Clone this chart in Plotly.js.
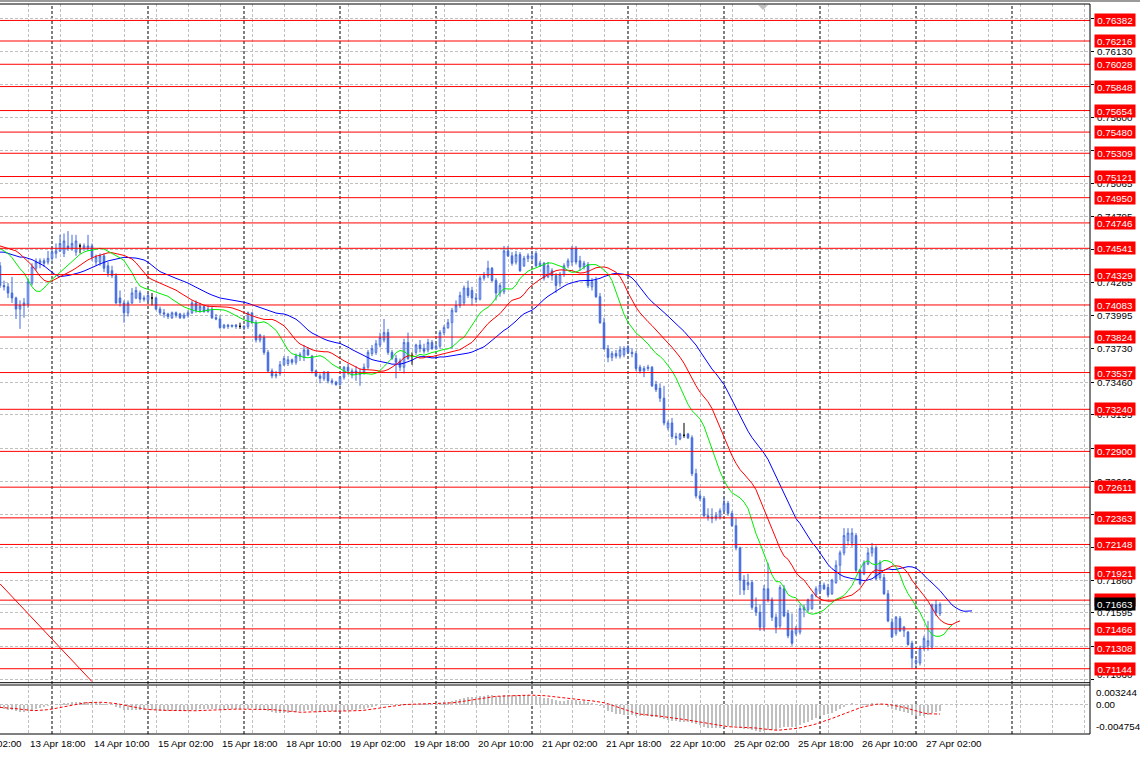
<!DOCTYPE html>
<html><head><meta charset="utf-8">
<script src="https://cdn.plot.ly/plotly-3.0.1.min.js"></script>
<style>html,body{margin:0;padding:0;background:#fff;}#chart{width:1140px;height:757px;}</style>
</head><body><div id="chart"></div>
<script>
// ---------- DATA (AUDUSD, H1) ----------
const firstBar = '13 Apr 11:00';
const opens = [
0.7440,0.7424,0.7423,0.7418,0.7414,0.7405,0.7408,0.7409,0.7426,0.7438,
0.7442,0.7444,0.7443,0.7446,0.7450,0.7452,0.7450,0.7456,0.7454,0.7451,
0.7456,0.7454,0.7454,0.7456,0.7443,0.7443,0.7448,0.7440,0.7436,0.7432,
0.7414,0.7410,0.7402,0.7410,0.7414,0.7418,0.7414,0.7412,0.7414,0.7414,
0.7405,0.7402,0.7401,0.7398,0.7402,0.7401,0.7398,0.7400,0.7402,0.7410,
0.7404,0.7407,0.7403,0.7405,0.7398,0.7397,0.7390,0.7392,0.7391,0.7392,
0.7391,0.7390,0.7391,0.7402,0.7394,0.7380,0.7382,0.7370,0.7355,0.7351,
0.7353,0.7360,0.7361,0.7364,0.7362,0.7367,0.7366,0.7372,0.7367,0.7355,
0.7351,0.7349,0.7354,0.7347,0.7346,0.7344,0.7350,0.7358,0.7352,0.7355,
0.7352,0.7354,0.7358,0.7369,0.7370,0.7376,0.7380,0.7386,0.7370,0.7365,
0.7363,0.7358,0.7378,0.7367,0.7370,0.7376,0.7373,0.7372,0.7378,0.7373,
0.7375,0.7386,0.7390,0.7394,0.7403,0.7408,0.7410,0.7422,0.7420,0.7414,
0.7413,0.7430,0.7432,0.7438,0.7428,0.7418,0.7419,0.7452,0.7448,0.7443,
0.7449,0.7440,0.7446,0.7446,0.7450,0.7440,0.7442,0.7431,0.7436,0.7432,
0.7426,0.7433,0.7440,0.7443,0.7454,0.7444,0.7439,0.7441,0.7423,0.7428,
0.7415,0.7394,0.7373,0.7366,0.7369,0.7367,0.7368,0.7374,0.7370,0.7369,
0.7358,0.7355,0.7357,0.7358,0.7344,0.7341,0.7333,0.7309,0.7313,0.7302,
0.7300,0.7303,0.7304,0.7301,0.7272,0.7254,0.7252,0.7238,0.7237,0.7236,
0.7237,0.7242,0.7248,0.7240,0.7230,0.7212,0.7186,0.7182,0.7184,0.7164,
0.7160,0.7148,0.7179,0.7170,0.7156,0.7149,0.7179,0.7159,0.7145,0.7143,
0.7144,0.7162,0.7162,0.7163,0.7174,0.7177,0.7182,0.7180,0.7175,0.7184,
0.7198,0.7208,0.7218,0.7216,0.7222,0.7194,0.7191,0.7199,0.7208,0.7212,
0.7188,0.7188,0.7175,0.7152,0.7143,0.7155,0.7145,0.7144,0.7135,0.7119,
0.7119,0.7131,0.7133,0.7132,0.7166,0.7159];
const highs = [
0.7443,0.7428,0.7426,0.7431,0.7415,0.7412,0.7414,0.7430,0.7442,0.7446,
0.7446,0.7446,0.7452,0.7455,0.7458,0.7465,0.7466,0.7468,0.7465,0.7465,
0.7458,0.7458,0.7465,0.7458,0.7449,0.7450,0.7450,0.7443,0.7440,0.7434,
0.7420,0.7412,0.7412,0.7422,0.7423,0.7420,0.7416,0.7418,0.7418,0.7415,
0.7407,0.7405,0.7402,0.7403,0.7403,0.7402,0.7402,0.7404,0.7412,0.7412,
0.7410,0.7408,0.7408,0.7407,0.7401,0.7400,0.7393,0.7393,0.7392,0.7393,
0.7394,0.7392,0.7403,0.7402,0.7396,0.7385,0.7384,0.7372,0.7357,0.7355,
0.7363,0.7367,0.7367,0.7365,0.7369,0.7370,0.7376,0.7374,0.7368,0.7356,
0.7353,0.7355,0.7355,0.7349,0.7347,0.7351,0.7359,0.7361,0.7357,0.7359,
0.7357,0.7361,0.7372,0.7376,0.7380,0.7386,0.7397,0.7389,0.7372,0.7368,
0.7365,0.7381,0.7386,0.7370,0.7377,0.7380,0.7377,0.7381,0.7380,0.7377,
0.7388,0.7392,0.7397,0.7406,0.7412,0.7419,0.7424,0.7428,0.7423,0.7418,
0.7432,0.7435,0.7444,0.7439,0.7430,0.7426,0.7456,0.7456,0.7451,0.7452,
0.7451,0.7448,0.7450,0.7451,0.7452,0.7444,0.7443,0.7443,0.7438,0.7434,
0.7435,0.7442,0.7446,0.7456,0.7456,0.7448,0.7444,0.7443,0.7430,0.7431,
0.7418,0.7398,0.7376,0.7371,0.7372,0.7375,0.7375,0.7376,0.7373,0.7371,
0.7360,0.7359,0.7360,0.7359,0.7347,0.7345,0.7343,0.7315,0.7317,0.7305,
0.7305,0.7313,0.7305,0.7303,0.7276,0.7258,0.7254,0.7244,0.7244,0.7241,
0.7244,0.7253,0.7250,0.7242,0.7236,0.7213,0.7190,0.7191,0.7186,0.7172,
0.7166,0.7182,0.7200,0.7172,0.7159,0.7182,0.7182,0.7162,0.7159,0.7149,
0.7166,0.7166,0.7171,0.7175,0.7181,0.7184,0.7184,0.7183,0.7187,0.7202,
0.7210,0.7228,0.7228,0.7228,0.7224,0.7195,0.7202,0.7212,0.7216,0.7214,
0.7202,0.7191,0.7178,0.7155,0.7157,0.7157,0.7149,0.7145,0.7137,0.7123,
0.7133,0.7141,0.7153,0.7167,0.7170,0.7168];
const lows = [
0.7422,0.7420,0.7414,0.7410,0.7397,0.7389,0.7398,0.7406,0.7424,0.7436,
0.7438,0.7439,0.7441,0.7444,0.7446,0.7451,0.7447,0.7452,0.7452,0.7448,
0.7450,0.7452,0.7452,0.7444,0.7440,0.7440,0.7435,0.7431,0.7430,0.7409,
0.7407,0.7394,0.7399,0.7409,0.7413,0.7410,0.7411,0.7410,0.7408,0.7404,
0.7400,0.7398,0.7397,0.7397,0.7398,0.7397,0.7397,0.7398,0.7401,0.7402,
0.7402,0.7402,0.7402,0.7397,0.7396,0.7389,0.7389,0.7389,0.7390,0.7389,
0.7389,0.7388,0.7389,0.7393,0.7378,0.7378,0.7368,0.7354,0.7349,0.7349,
0.7351,0.7359,0.7359,0.7360,0.7360,0.7363,0.7363,0.7367,0.7353,0.7350,
0.7345,0.7347,0.7345,0.7344,0.7343,0.7343,0.7348,0.7352,0.7349,0.7347,
0.7343,0.7352,0.7356,0.7367,0.7368,0.7374,0.7378,0.7368,0.7364,0.7349,
0.7355,0.7353,0.7364,0.7360,0.7368,0.7370,0.7369,0.7370,0.7372,0.7372,
0.7373,0.7384,0.7389,0.7373,0.7402,0.7406,0.7408,0.7414,0.7408,0.7410,
0.7412,0.7428,0.7430,0.7427,0.7412,0.7415,0.7417,0.7447,0.7440,0.7441,
0.7435,0.7439,0.7443,0.7444,0.7439,0.7439,0.7428,0.7430,0.7428,0.7418,
0.7423,0.7431,0.7438,0.7440,0.7441,0.7436,0.7437,0.7422,0.7420,0.7414,
0.7393,0.7372,0.7362,0.7363,0.7365,0.7365,0.7366,0.7369,0.7366,0.7355,
0.7353,0.7350,0.7355,0.7342,0.7338,0.7330,0.7311,0.7307,0.7300,0.7295,
0.7299,0.7301,0.7300,0.7270,0.7252,0.7250,0.7237,0.7234,0.7232,0.7234,
0.7235,0.7241,0.7238,0.7229,0.7210,0.7174,0.7174,0.7178,0.7162,0.7157,
0.7145,0.7145,0.7168,0.7153,0.7143,0.7147,0.7156,0.7139,0.7133,0.7141,
0.7142,0.7156,0.7160,0.7162,0.7172,0.7175,0.7178,0.7172,0.7174,0.7183,
0.7186,0.7206,0.7214,0.7213,0.7192,0.7182,0.7190,0.7198,0.7205,0.7186,
0.7186,0.7174,0.7152,0.7139,0.7141,0.7144,0.7140,0.7133,0.7115,0.7115,
0.7117,0.7129,0.7129,0.7130,0.7157,0.7157];
const closes = [
0.7424,0.7423,0.7418,0.7414,0.7405,0.7408,0.7410,0.7427,0.7439,0.7443,
0.7444,0.7442,0.7446,0.7451,0.7452,0.7458,0.7460,0.7454,0.7458,0.7460,
0.7456,0.7456,0.7456,0.7447,0.7447,0.7448,0.7438,0.7434,0.7432,0.7410,
0.7410,0.7402,0.7410,0.7418,0.7420,0.7413,0.7413,0.7416,0.7414,0.7405,
0.7402,0.7401,0.7399,0.7402,0.7400,0.7398,0.7400,0.7402,0.7410,0.7404,
0.7407,0.7403,0.7405,0.7398,0.7397,0.7390,0.7392,0.7391,0.7392,0.7391,
0.7391,0.7391,0.7402,0.7394,0.7380,0.7384,0.7370,0.7355,0.7351,0.7352,
0.7360,0.7365,0.7364,0.7362,0.7367,0.7368,0.7372,0.7368,0.7355,0.7351,
0.7349,0.7354,0.7347,0.7346,0.7344,0.7350,0.7358,0.7355,0.7355,0.7353,
0.7354,0.7358,0.7370,0.7373,0.7377,0.7382,0.7386,0.7370,0.7365,0.7362,
0.7358,0.7378,0.7365,0.7367,0.7376,0.7373,0.7371,0.7378,0.7373,0.7375,
0.7386,0.7390,0.7394,0.7404,0.7408,0.7416,0.7422,0.7416,0.7414,0.7413,
0.7430,0.7432,0.7438,0.7428,0.7418,0.7424,0.7452,0.7448,0.7442,0.7449,
0.7436,0.7446,0.7448,0.7448,0.7440,0.7442,0.7430,0.7440,0.7432,0.7424,
0.7433,0.7440,0.7444,0.7454,0.7443,0.7439,0.7442,0.7424,0.7427,0.7415,
0.7394,0.7373,0.7366,0.7369,0.7367,0.7372,0.7373,0.7370,0.7369,0.7357,
0.7355,0.7357,0.7358,0.7343,0.7340,0.7333,0.7313,0.7313,0.7302,0.7301,
0.7304,0.7303,0.7301,0.7272,0.7254,0.7252,0.7238,0.7237,0.7236,0.7238,
0.7242,0.7248,0.7240,0.7230,0.7212,0.7186,0.7178,0.7184,0.7164,0.7160,
0.7148,0.7179,0.7170,0.7156,0.7148,0.7180,0.7157,0.7141,0.7135,0.7147,
0.7163,0.7164,0.7170,0.7174,0.7179,0.7182,0.7179,0.7174,0.7186,0.7198,
0.7208,0.7222,0.7224,0.7224,0.7194,0.7183,0.7200,0.7208,0.7212,0.7187,
0.7200,0.7175,0.7153,0.7140,0.7156,0.7145,0.7148,0.7134,0.7123,0.7121,
0.7131,0.7139,0.7137,0.7166,0.7160,0.71663];

// Alligator line values visible before its first computed point
const jawHead   = [0.7451,0.7451,0.7450,0.7449,0.7448,0.7447,0.7447,0.7446];
const teethHead = [0.7456,0.7455,0.7454,0.7453,0.7452];
const lipsHead  = [0.7454,0.7452,0.7450];
// price level and MACD value at the left edge
const priorLevel = 0.7450;
const macdHead = -0.0004;

// Horizontal level lines (red) and price grid levels
const redLevels = [0.76382,0.76216,0.76028,0.75848,0.75654,0.75480,0.75309,0.75121,0.74950,0.74746,
  0.74541,0.74329,0.74083,0.73824,0.73537,0.73240,0.72900,0.72611,0.72363,0.72148,
  0.71921,0.71698,0.71466,0.71308,0.71144];
const gridPrices = [0.76395,0.76130,0.75865,0.75600,0.75330,0.75065,0.74795,0.74530,0.74265,0.73995,
  0.73730,0.73460,0.73195,0.72925,0.72660,0.72390,0.72125,0.71860,0.71595,0.71325,0.71060];
const macdLabels = [0.003244, 0.00, -0.004754];
const timeLabels = ['13 Apr 02:00','13 Apr 18:00','14 Apr 10:00','15 Apr 02:00','15 Apr 18:00',
  '18 Apr 10:00','19 Apr 02:00','19 Apr 18:00','20 Apr 10:00','21 Apr 02:00','21 Apr 18:00',
  '22 Apr 10:00','25 Apr 02:00','25 Apr 18:00','26 Apr 10:00','27 Apr 02:00'];
// trend line drawn on chart (bar, price)
const trendBars = [0, 23];
const trendPrices = [0.7183, 0.7104];

// ---------- settings ----------
const X_MAX = 272.5;
const P_MIN = 0.71031, P_MAX = 0.76515;
const M_MIN = -0.004754, M_MAX = 0.003244;
const BLUE = '#4169e1';
const FONT = 'Liberation Sans, Arial, sans-serif';
const DASH = '3px,2px';
const FS = 9.8;

// ---------- time axis ----------
const MON = {Apr: 3};
function parseT(s){ const [d,m,hm] = s.split(' '); const [h,mi] = hm.split(':'); return Date.UTC(2022, MON[m], +d, +h, +mi); }
const hours = [];
for (let t = Date.UTC(2022,3,11,0); t <= Date.UTC(2022,3,29,23); t += 3600000) {
  const wd = new Date(t).getUTCDay(); if (wd !== 0 && wd !== 6) hours.push(t);
}
const startIdx = hours.indexOf(parseT(firstBar));
const barOf = s => hours.indexOf(parseT(s)) - startIdx;
const labelBars = timeLabels.map(barOf);
const daySeps = [];
for (let b = 0; b <= X_MAX; b++) { const t = hours[startIdx + b]; if (t !== undefined && new Date(t).getUTCHours() === 0) daySeps.push(b); }
const gridBars = [];
for (let b = labelBars[0]; b <= X_MAX; b += 8) if (b >= 0) gridBars.push(b);

// ---------- indicators ----------
const N = closes.length;
const idx = closes.map((_, i) => i);
const med = highs.map((h, i) => (h + lows[i]) / 2);
function smma(seed, src, n){ let s = seed; return src.map(v => (s = (s * (n - 1) + v) / n)); }
function alligator(head, n, shift){
  const vals = smma(head[head.length - 1], med, n);
  return { x: head.map((_, i) => i).concat(idx.map(i => i + shift)), y: head.concat(vals) };
}
const jaw = alligator(jawHead, 13, 8), teeth = alligator(teethHead, 8, 5), lips = alligator(lipsHead, 5, 3);
function ema(src, n, seed){ const k = 2 / (n + 1); let e = seed; return src.map(v => (e = v * k + e * (1 - k))); }
const e12 = ema(closes, 12, priorLevel + macdHead), e26 = ema(closes, 26, priorLevel);
const macd = e12.map((v, i) => v - e26[i]);
const macdExt = new Array(8).fill(macdHead).concat(macd);
const signal = macd.map((_, i) => macdExt.slice(i, i + 9).reduce((s, v) => s + v, 0) / 9);

// ---------- traces ----------
const isDoji = i => opens[i] === closes[i];
const nd = idx.filter(i => !isDoji(i)), dj = idx.filter(isDoji);
const pick = (arr, ids) => ids.map(i => arr[i]);
const traces = [
  { type:'candlestick', x:nd, open:pick(opens,nd), high:pick(highs,nd), low:pick(lows,nd), close:pick(closes,nd),
    xaxis:'x', yaxis:'y', whiskerwidth:0, hoverinfo:'skip',
    increasing:{line:{color:BLUE,width:1}, fillcolor:'#ffffff'},
    decreasing:{line:{color:BLUE,width:1}, fillcolor:BLUE} },
  { type:'candlestick', x:dj, open:pick(opens,dj), high:pick(highs,dj), low:pick(lows,dj), close:pick(closes,dj),
    xaxis:'x', yaxis:'y', whiskerwidth:0, hoverinfo:'skip',
    increasing:{line:{color:'#000',width:1}, fillcolor:'#000'},
    decreasing:{line:{color:'#000',width:1}, fillcolor:'#000'} },
  { type:'scatter', mode:'lines', x:jaw.x, y:jaw.y, line:{color:'#0000ff', width:1}, xaxis:'x', yaxis:'y', hoverinfo:'skip' },
  { type:'scatter', mode:'lines', x:teeth.x, y:teeth.y, line:{color:'#ff0000', width:1}, xaxis:'x', yaxis:'y', hoverinfo:'skip' },
  { type:'scatter', mode:'lines', x:lips.x, y:lips.y, line:{color:'#00ee00', width:1}, xaxis:'x', yaxis:'y', hoverinfo:'skip' },
  { type:'scatter', mode:'lines', x:trendBars, y:trendPrices, line:{color:'#ff0000', width:1}, xaxis:'x', yaxis:'y', hoverinfo:'skip' },
  { type:'bar', x:idx, y:macd, width:0.5, marker:{color:'#c0c0c0', line:{width:0}}, xaxis:'x', yaxis:'y2', hoverinfo:'skip' },
  { type:'scatter', mode:'lines', x:idx, y:signal, line:{color:'#ff0000', width:1, dash:'3px,2px'}, xaxis:'x', yaxis:'y2', hoverinfo:'skip' }
];

// ---------- layout ----------
const H = 730; // plot-area height in px
const mainBottom = (734 - 682.7) / H, subTop = (734 - 685) / H;
const lastClose = closes[N - 1];
const covered = p => redLevels.some(r => Math.abs(r - p) < 0.0003) || Math.abs(lastClose - p) < 0.0003 || p === gridPrices[gridPrices.length - 1];
const shapes = [];
daySeps.forEach(b => shapes.push({type:'line', xref:'x', yref:'paper', x0:b, x1:b, y0:0, y1:1, layer:'between', line:{color:'#000', width:1, dash:DASH}}));
shapes.push({type:'line', xref:'paper', yref:'y', x0:0, x1:1, y0:lastClose, y1:lastClose, layer:'between', line:{color:'#c0c0c0', width:1}});
redLevels.forEach(p => shapes.push({type:'line', xref:'paper', yref:'y', x0:0, x1:1, y0:p, y1:p, layer:'above', line:{color:'#ff0000', width:1}}));
// panel frames
[1, mainBottom, subTop, 0].forEach(a => shapes.push({type:'line', xref:'paper', yref:'paper', x0:0, x1:1, y0:a, y1:a, layer:'above', line:{color:'#000', width:1}}));
shapes.push({type:'line', xref:'paper', yref:'paper', x0:1, x1:1, y0:0, y1:1, layer:'above', line:{color:'#000', width:1}});
// window top band and chart-shift marker
shapes.push({type:'rect', xref:'paper', yref:'paper', x0:0, x1:1140/1090, y0:1 + 2/H, y1:1 + 4/H, fillcolor:'#9a9a9a', line:{width:0}, layer:'above'});
const mx = 763 / 1090;
shapes.push({type:'path', xref:'paper', yref:'paper', path:`M ${mx - 5/1090} ${1 - 1/H} L ${mx + 5/1090} ${1 - 1/H} L ${mx} ${1 - 6/H} Z`, fillcolor:'#c0c0c0', line:{width:0}, layer:'above'});

const annotations = [];
// lowest grid label sits just inside the panel bottom
const lowGrid = gridPrices[gridPrices.length - 1];
annotations.push({xref:'paper', yref:'paper', x:1, y:mainBottom, xanchor:'left', yanchor:'bottom', xshift:5, yshift:1,
  text:lowGrid.toFixed(5), showarrow:false, font:{family:FONT, size:FS, color:'#000'}});
redLevels.forEach(p => annotations.push({xref:'paper', yref:'y', x:1, y:p, xanchor:'left', yanchor:'middle', xshift:4,
  text:p.toFixed(5), showarrow:false, bgcolor:'#ff0000', font:{family:FONT, size:FS, color:'#ffffff'}, width:38, height:10, borderpad:1}));
annotations.push({xref:'paper', yref:'y', x:1, y:lastClose, xanchor:'left', yanchor:'middle', xshift:4,
  text:lastClose.toFixed(5), showarrow:false, bgcolor:'#000000', font:{family:FONT, size:FS, color:'#ffffff'}, width:38, height:10, borderpad:1});
macdLabels.forEach((v, k) => annotations.push({xref:'paper', yref:'y2', x:1, y:v, xanchor:'left', yanchor: k === 0 ? 'top' : (k === 2 ? 'bottom' : 'middle'), xshift:4,
  text: v === 0 ? '0.00' : v.toFixed(6), showarrow:false, font:{family:FONT, size:FS, color:'#000'}}));
timeLabels.forEach((s, k) => annotations.push({xref:'paper', yref:'paper', x:labelBars[k] / X_MAX, y:0, xanchor:'left', yanchor:'top', yshift:-2, xshift:0,
  text:s, showarrow:false, font:{family:FONT, size:FS, color:'#000'}}));

const layout = {
  width:1140, height:757, margin:{l:0, r:50, t:4, b:23, pad:0},
  paper_bgcolor:'#ffffff', plot_bgcolor:'#ffffff', showlegend:false, boxgap:0.45, bargap:0,
  hovermode:false, dragmode:false,
  xaxis:{range:[0, X_MAX], anchor:'y2', tickvals:gridBars, showticklabels:false, ticks:'', showgrid:true,
    gridcolor:'#c0c0c0', griddash:DASH, gridwidth:1, zeroline:false, showline:false, rangeslider:{visible:false}, fixedrange:true},
  yaxis:{domain:[mainBottom, 1], range:[P_MIN, P_MAX], side:'right', anchor:'x', tickvals:gridPrices,
    ticktext:gridPrices.map(v => covered(v) ? '' : v.toFixed(5)),
    ticks:'outside', ticklen:3, tickcolor:'#000', tickwidth:1, ticklabelstandoff:1, tickfont:{family:FONT, size:FS, color:'#000'},
    showgrid:true, gridcolor:'#c0c0c0', griddash:DASH, zeroline:false, showline:false, fixedrange:true},
  yaxis2:{domain:[0, subTop], range:[M_MIN, M_MAX], side:'right', anchor:'x', tickvals:[0], showticklabels:false, ticks:'',
    showgrid:true, gridcolor:'#c0c0c0', griddash:DASH, zeroline:false, showline:false, fixedrange:true},
  shapes, annotations
};
Plotly.newPlot('chart', traces, layout, {staticPlot:true, displayModeBar:false});
</script>
</body></html>
